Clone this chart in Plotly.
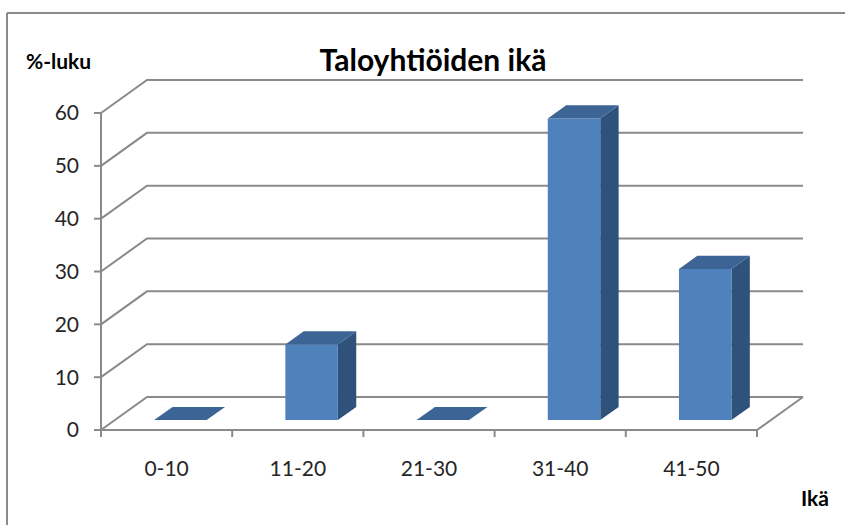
import plotly.graph_objects as go

# ---- data ----
categories = ["0-10", "11-20", "21-30", "31-40", "41-50"]
values = [0.0, 14.3, 0.0, 57.1, 28.6]
y_ticks = [0, 10, 20, 30, 40, 50, 60]
title_text = "Taloyhtiöiden ikä"
y_title = "%-luku"
x_title = "Ikä"

# ---- geometry (pixels) ----
W, H = 846, 525
PX_CAT = 131.2          # px per category on the front plane
PX_VAL = 5.283          # px per value unit
FRONT_X0 = 101          # px of front vertical axis
FRONT_Y0 = 430          # px of value 0 on front plane
DEPTH_PX = (46, -33)    # oblique depth offset (px)
ML, MR, MT, MB = 90, 36, 70, 80
PW, PH = W - ML - MR, H - MT - MB

DX = DEPTH_PX[0] / PX_CAT
DY = -DEPTH_PX[1] / PX_VAL
xmin = -(FRONT_X0 - ML) / PX_CAT
xmax = xmin + PW / PX_CAT
ymin = -(MT + PH - FRONT_Y0) / PX_VAL
ymax = (FRONT_Y0 - MT) / PX_VAL

GRID = "#8a8a8a"
FRONT = "#4F81BD"
TOP = "#3C6595"
SIDE = "#2F527B"
FONT = "Lato"

n = len(categories)
fig = go.Figure()


def seg(xs, ys, color=GRID, width=2):
    fig.add_trace(go.Scatter(x=xs, y=ys, mode="lines", line=dict(color=color, width=width),
                             hoverinfo="skip", showlegend=False))


# back wall gridlines + left wall diagonals
for v in y_ticks:
    seg([0, DX, n + DX], [v, v + DY, v + DY])
# front vertical axis
seg([0, 0], [y_ticks[0], y_ticks[-1]])
# y tick marks
for v in y_ticks:
    seg([-7 / PX_CAT, 0], [v, v])
# floor front edge and right edge
seg([0, n, n + DX], [0, 0, DY])
# x tick marks
for i in range(n + 1):
    seg([i, i], [0, -7 / PX_VAL])

# bars
f0, f1 = 0.30, 0.70
bw = 0.40
ddx, ddy = (f1 - f0) * DX, (f1 - f0) * DY
for i, h in enumerate(values):
    xl = i + 0.5 - bw / 2 + f0 * DX
    xr = xl + bw
    yb = f0 * DY
    yt = h + f0 * DY
    if h > 0:
        fig.add_trace(go.Scatter(x=[xr, xr + ddx, xr + ddx, xr, xr], y=[yb, yb + ddy, yt + ddy, yt, yb],
                                 fill="toself", fillcolor=SIDE, mode="lines", line=dict(width=0, color=SIDE),
                                 hoverinfo="skip", showlegend=False))
        fig.add_trace(go.Scatter(x=[xl, xr, xr, xl, xl], y=[yb, yb, yt, yt, yb],
                                 fill="toself", fillcolor=FRONT, mode="lines", line=dict(width=0, color=FRONT),
                                 hoverinfo="skip", showlegend=False))
    fig.add_trace(go.Scatter(x=[xl, xr, xr + ddx, xl + ddx, xl], y=[yt, yt, yt + ddy, yt + ddy, yt],
                             fill="toself", fillcolor=TOP, mode="lines", line=dict(width=0, color=TOP),
                             hoverinfo="skip", showlegend=False))

fig.update_xaxes(range=[xmin, xmax], tickvals=[i + 0.5 for i in range(n)], ticktext=categories,
                 showgrid=False, zeroline=False, showline=False, ticks="",
                 tickfont=dict(family=FONT, size=21, color="#262626"), ticklabelstandoff=9)
fig.update_yaxes(range=[ymin, ymax], tickvals=y_ticks, showgrid=False, zeroline=False, showline=False,
                 ticks="", tickfont=dict(family=FONT, size=21, color="#262626"), ticklabelstandoff=10)


def px2paper(px, py):
    return (px - ML) / PW, 1 - (py - MT) / PH


# chart-area border (top and left edges visible)
bx0, by0 = px2paper(7, 13)
bx1, by1 = px2paper(W - 1, H)
fig.add_shape(type="line", xref="paper", yref="paper", x0=bx0, y0=by0, x1=bx1, y1=by0,
              line=dict(color="#8a8a8a", width=2), layer="below")
fig.add_shape(type="line", xref="paper", yref="paper", x0=bx0, y0=by0, x1=bx0, y1=by1,
              line=dict(color="#8a8a8a", width=2), layer="below")

fig.update_layout(
    width=W, height=H, margin=dict(l=ML, r=MR, t=MT, b=MB),
    paper_bgcolor="white", plot_bgcolor="white", showlegend=False,
    title=dict(text="<b>" + title_text + "</b>", x=433 / W, xanchor="center", y=1 - 60 / H,
               yanchor="middle", xref="container", yref="container",
               font=dict(family=FONT, size=30, color="black")),
)
fig.add_annotation(text="<b>" + y_title + "</b>", xref="paper", yref="paper",
                   x=px2paper(24, 61)[0], y=px2paper(24, 61)[1], xanchor="left", yanchor="middle",
                   showarrow=False, font=dict(family=FONT, size=21, color="black"))
fig.add_annotation(text="<b>" + x_title + "</b>", xref="paper", yref="paper",
                   x=px2paper(799, 497)[0], y=px2paper(799, 497)[1], xanchor="left", yanchor="middle",
                   showarrow=False, font=dict(family=FONT, size=21, color="black"))

fig.write_html("out.html")
